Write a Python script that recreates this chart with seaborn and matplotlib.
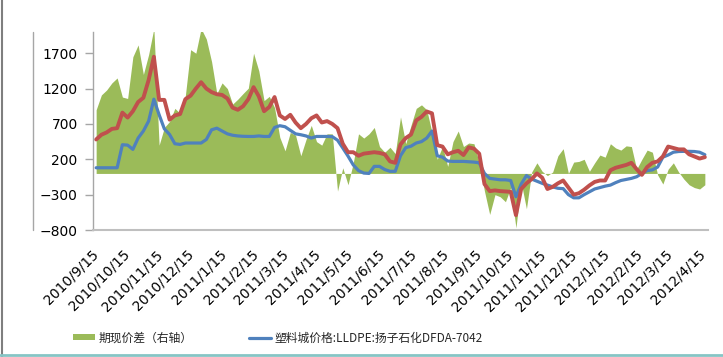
import numpy as np
import pandas as pd
import matplotlib
matplotlib.use('Agg')
import matplotlib.pyplot as plt
from matplotlib.lines import Line2D
from matplotlib.patches import Patch
import seaborn as sns

# readings every 5 days starting 2010/9/15
start_date = '2010-09-15'

spread = [900, 1110, 1180, 1280, 1350, 1080, 1060, 1650, 1817, 1400,
          1680, 2050, 400, 650, 735, 920, 850, 1100, 1750, 1700,
          2050, 1900, 1580, 1130, 1280, 1200, 980, 1050, 1130, 1206,
          1700, 1450, 1030, 1090, 930, 510, 320, 580, 540, 250,
          480, 680, 450, 400, 560, 560, -250, 80, -160, 150,
          560, 500, 560, 650, 380, 300, 370, 280, 800, 420,
          680, 920, 970, 900, 580, 200, 380, 100, 450, 600,
          380, 430, 420, 150, -250, -580, -300, -330, -400, -200,
          -770, -130, -500, 20, 150, 30, -30, 20, 250, 350,
          0, 160, 170, 200, 30, 150, 260, 230, 420, 360,
          330, 390, 380, 60, 200, 330, 300, -20, -150, 60,
          150, 20, -80, -160, -200, -220, -160]

plastic_city = [80, 80, 80, 80, 80, 406, 400, 340, 500, 600,
                740, 1050, 830, 630, 550, 420, 410, 430, 430, 430,
                430, 480, 617, 640, 600, 560, 540, 530, 525, 523,
                523, 530, 523, 523, 650, 675, 660, 610, 560, 547,
                530, 500, 523, 523, 523, 520, 470, 360, 245, 120,
                40, 5, 0, 100, 100, 55, 30, 30, 250, 365,
                385, 430, 450, 500, 600, 250, 230, 175, 170, 170,
                170, 165, 160, 150, 0, -70, -80, -90, -90, -100,
                -330, -150, -30, -80, -110, -140, -165, -190, -210, -215,
                -300, -345, -345, -300, -260, -220, -200, -180, -165, -130,
                -100, -85, -70, -47, 0, 40, 50, 90, 230, 260,
                300, 310, 312, 312, 310, 300, 265]

futures = [480, 547, 580, 630, 640, 860, 790, 880, 1010, 1070,
           1320, 1650, 1040, 1040, 760, 820, 840, 1050, 1100, 1200,
           1290, 1200, 1150, 1120, 1110, 1060, 930, 900, 950, 1050,
           1220, 1090, 880, 940, 1080, 820, 770, 829, 720, 640,
           700, 780, 820, 720, 740, 700, 640, 420, 300, 300,
           250, 280, 290, 300, 290, 270, 170, 150, 410, 500,
           550, 750, 800, 876, 850, 400, 380, 270, 300, 320,
           260, 370, 350, 280, -150, -250, -240, -250, -255, -260,
           -590, -220, -140, -80, 0, -60, -220, -190, -140, -100,
           -200, -300, -280, -230, -170, -120, -100, -100, 45, 80,
           100, 120, 150, 60, -20, 90, 150, 170, 240, 380,
           360, 340, 340, 270, 240, 210, 230]

tick_labels = ['2010/9/15', '2010/10/15', '2010/11/15', '2010/12/15',
               '2011/1/15', '2011/2/15', '2011/3/15', '2011/4/15',
               '2011/5/15', '2011/6/15', '2011/7/15', '2011/8/15',
               '2011/9/15', '2011/10/15', '2011/11/15', '2011/12/15',
               '2012/1/15', '2012/2/15', '2012/3/15', '2012/4/15']
y_ticks = [-800, -300, 200, 700, 1200, 1700]
legend_labels = ['期现价差（右轴）', '塑料城价格:LLDPE:扬子石化DFDA-7042']

dates = pd.date_range(start_date, periods=len(spread), freq='5D')
df = pd.DataFrame({'date': dates, 'spread': spread,
                   'plastic': plastic_city, 'futures': futures})

green, blue, red = '#9BBB59', '#4F81BD', '#C0504D'

sns.set_style('white')
plt.rcParams['font.family'] = ['DejaVu Sans']

W, H = 723, 357
fig = plt.figure(figsize=(W / 100, H / 100), dpi=100)
ax = fig.add_axes([93 / W, 1 - 230 / H, (708 - 93) / W, (230 - 32) / H])

ax.fill_between(df['date'], 0, df['spread'], color=green, lw=0)
sns.lineplot(data=df, x='date', y='plastic', color=blue, lw=2.3, ax=ax)
sns.lineplot(data=df, x='date', y='futures', color=red, lw=2.8, ax=ax)

ax.set_xlim(pd.Timestamp('2010-09-12'), pd.Timestamp('2012-04-20'))
ax.set_ylim(-800, 2000)
ax.set_yticks(y_ticks)
ax.set_xticks(pd.to_datetime(tick_labels, format='%Y/%m/%d'))
ax.set_xticklabels(tick_labels, rotation=45, ha='right', va='center',
                   rotation_mode='anchor')
ax.tick_params(axis='x', length=0, pad=16, labelsize=10, colors='black')
ax.tick_params(axis='y', left=True, length=6, width=1, color='#a6a6a6',
               pad=5, labelsize=10, labelcolor='black', direction='out')
ax.set_xlabel('')
ax.set_ylabel('')
for s in ['top', 'right']:
    ax.spines[s].set_visible(False)
ax.spines['left'].set_color('#a6a6a6')
ax.spines['left'].set_linewidth(1)
ax.spines['bottom'].set_color('#bfbfbf')
ax.spines['bottom'].set_linewidth(1.5)

# frame lines of the original screenshot
fig.add_artist(Line2D([33 / W] * 2, [1 - 32 / H, 1 - 230 / H], color='#a6a6a6', lw=1))
fig.add_artist(Line2D([2 / W] * 2, [0, 1], color='#7f7f7f', lw=1.5))
fig.add_artist(Line2D([0, 1], [1 - 355 / H] * 2, color='#86c5c5', lw=2))

handles = [Patch(facecolor=green, edgecolor='none'),
           Line2D([], [], color=blue, lw=2.3)]
fig.legend(handles, legend_labels, loc='center left',
           bbox_to_anchor=(67 / W, 1 - 338 / H), ncol=2, frameon=False,
           borderpad=0, handlelength=1.9, handleheight=0.4,
           handletextpad=0.25, columnspacing=4.8,
           prop={'family': ['Noto Sans CJK SC', 'DejaVu Sans'], 'size': 8.5})

fig.savefig('out.png', dpi=100)
